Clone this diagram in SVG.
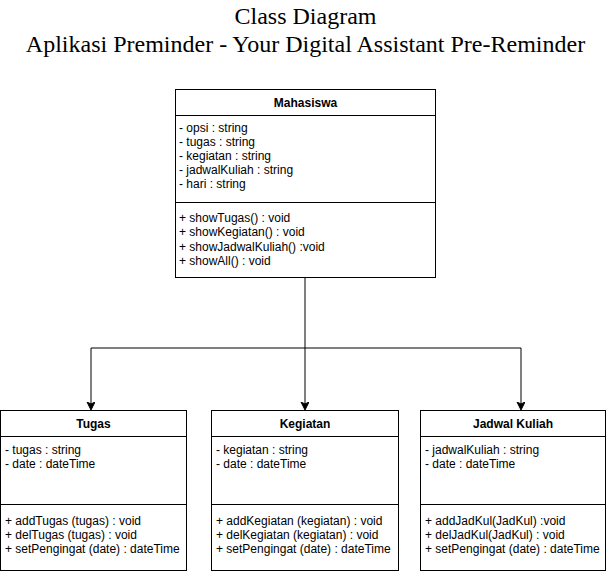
<svg xmlns="http://www.w3.org/2000/svg" width="607" height="573" viewBox="0 0 607 573">
<style>
.box{fill:#fff;stroke:#000;stroke-width:1}
.div{stroke:#000;stroke-width:1}
.name{font-family:"Liberation Sans",Arial,sans-serif;font-size:12px;font-weight:bold;text-anchor:middle}
.txt{font-family:"Liberation Sans",Arial,sans-serif;font-size:12px}
.title{font-family:"Liberation Serif","Times New Roman",serif;font-size:24px;text-anchor:middle}
.conn{fill:none;stroke:#000;stroke-width:1}
</style>
<defs>
<marker id="arr" markerWidth="10" markerHeight="10" refX="7" refY="4" orient="auto" markerUnits="userSpaceOnUse">
<path d="M0,0 L8,4 L0,8 L2,4 Z" fill="#000" stroke="#000" stroke-width="1"/>
</marker>
</defs>
<g id="title">
<text class="title" x="305.5" y="24">Class Diagram</text>
<text class="title" x="305.5" y="52">Aplikasi Preminder - Your Digital Assistant Pre-Reminder</text>
</g>
<g id="connectors">
<path class="conn" d="M305,277 L305,409" marker-end="url(#arr)"/>
<path class="conn" d="M305,348 L91,348 L91,409" marker-end="url(#arr)"/>
<path class="conn" d="M305,348 L521,348 L521,409" marker-end="url(#arr)"/>
</g>
<g id="mahasiswa">
<rect class="box" x="175.5" y="89.5" width="260" height="188"/>
<line class="div" x1="175.5" y1="115.5" x2="435.5" y2="115.5"/>
<line class="div" x1="175.5" y1="202.5" x2="435.5" y2="202.5"/>
<text class="name" x="305.5" y="107">Mahasiswa</text>
<text class="txt" x="179" y="132">- opsi : string</text>
<text class="txt" x="179" y="146">- tugas : string</text>
<text class="txt" x="179" y="160">- kegiatan : string</text>
<text class="txt" x="179" y="174">- jadwalKuliah : string</text>
<text class="txt" x="179" y="188">- hari : string</text>
<text class="txt" x="179" y="222">+ showTugas() : void</text>
<text class="txt" x="179" y="236">+ showKegiatan() : void</text>
<text class="txt" x="179" y="251">+ showJadwalKuliah() :void</text>
<text class="txt" x="179" y="265">+ showAll() : void</text>
</g>
<g id="tugas">
<rect class="box" x="0.5" y="410.5" width="186" height="160"/>
<line class="div" x1="0.5" y1="436.5" x2="186.5" y2="436.5"/>
<line class="div" x1="0.5" y1="504.5" x2="186.5" y2="504.5"/>
<text class="name" x="93.5" y="428">Tugas</text>
<text class="txt" x="5" y="454">- tugas : string</text>
<text class="txt" x="5" y="468">- date : dateTime</text>
<text class="txt" x="5" y="525">+ addTugas (tugas) : void</text>
<text class="txt" x="5" y="539">+ delTugas (tugas) : void</text>
<text class="txt" x="5" y="553">+ setPengingat (date) : dateTime</text>
</g>
<g id="kegiatan">
<rect class="box" x="211.5" y="410.5" width="187" height="160"/>
<line class="div" x1="211.5" y1="436.5" x2="398.5" y2="436.5"/>
<line class="div" x1="211.5" y1="504.5" x2="398.5" y2="504.5"/>
<text class="name" x="305" y="428">Kegiatan</text>
<text class="txt" x="216" y="454">- kegiatan : string</text>
<text class="txt" x="216" y="468">- date : dateTime</text>
<text class="txt" x="216" y="525">+ addKegiatan (kegiatan) : void</text>
<text class="txt" x="216" y="539">+ delKegiatan (kegiatan) : void</text>
<text class="txt" x="216" y="553">+ setPengingat (date) : dateTime</text>
</g>
<g id="jadwalKuliah">
<rect class="box" x="420.5" y="410.5" width="185" height="160"/>
<line class="div" x1="420.5" y1="436.5" x2="605.5" y2="436.5"/>
<line class="div" x1="420.5" y1="504.5" x2="605.5" y2="504.5"/>
<text class="name" x="513" y="428">Jadwal Kuliah</text>
<text class="txt" x="425" y="454">- jadwalKuliah : string</text>
<text class="txt" x="425" y="468">- date : dateTime</text>
<text class="txt" x="425" y="525">+ addJadKul(JadKul) :void</text>
<text class="txt" x="425" y="539">+ delJadKul(JadKul) : void</text>
<text class="txt" x="425" y="553">+ setPengingat (date) : dateTime</text>
</g>
</svg>
